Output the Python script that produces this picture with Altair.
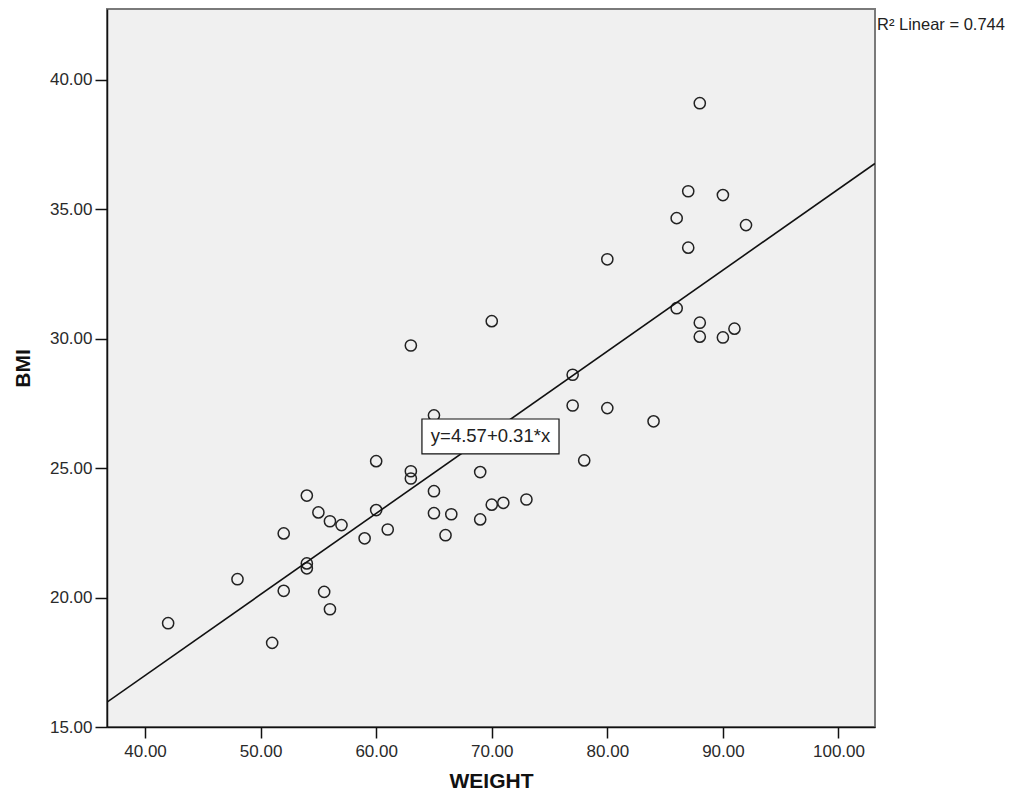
import altair as alt
import pandas as pd

# ---- data ----
weight = [88, 87, 90, 86, 92, 87, 80, 86, 88, 91, 88, 90,
          77, 77, 80, 84, 78,
          70, 63, 65, 60, 63, 63, 69, 54, 65, 55, 60, 56, 57, 65, 66.5,
          70, 71, 73, 69, 61, 59, 66, 52, 54, 54, 48, 52, 55.5, 56, 42, 51]
bmi = [39.10, 35.70, 35.55, 34.66, 34.39, 33.52, 33.07, 31.18, 30.62, 30.39, 30.08, 30.05,
       28.61, 27.42, 27.32, 26.81, 25.30,
       30.68, 29.74, 27.04, 25.27, 24.88, 24.60, 24.85, 23.94, 24.11, 23.29, 23.38, 22.95, 22.80, 23.26, 23.22,
       23.59, 23.66, 23.79, 23.02, 22.63, 22.29, 22.41, 22.48, 21.32, 21.13, 20.71, 20.26, 20.22, 19.55, 19.01, 18.25]

x_ticks = [40, 50, 60, 70, 80, 90, 100]
y_ticks = [15, 20, 25, 30, 35, 40]
x_domain = [36.71, 103.16]
y_domain = [15.0, 42.74]

eq_label = ["y=4.57+0.31*x"]
eq_box_x = [63.96, 75.82]
eq_box_y = [26.90, 25.55]
r2_label = ["R\u00b2 Linear = 0.744"]

FONT = "Liberation Sans"

df = pd.DataFrame({"WEIGHT": weight, "BMI": bmi})
box_df = pd.DataFrame({"x1": [eq_box_x[0]], "x2": [eq_box_x[1]],
                       "y1": [eq_box_y[0]], "y2": [eq_box_y[1]],
                       "tx": [(eq_box_x[0] + eq_box_x[1]) / 2],
                       "ty": [(eq_box_y[0] + eq_box_y[1]) / 2],
                       "label": eq_label})
r2_df = pd.DataFrame({"label": r2_label})

xs = alt.Scale(domain=x_domain, nice=False, zero=False)
ys = alt.Scale(domain=y_domain, nice=False, zero=False)

x_axis = alt.Axis(values=x_ticks, format=".2f", title="WEIGHT", grid=False,
                  tickSize=11, labelPadding=5, titlePadding=11)
y_axis = alt.Axis(values=y_ticks, format=".2f", title="BMI", grid=False,
                  tickSize=12, labelPadding=3, titlePadding=16)

points = alt.Chart(df).mark_point(
    shape="circle", filled=False, size=125, stroke="#222222",
    strokeWidth=1.5, opacity=1
).encode(
    x=alt.X("WEIGHT:Q", scale=xs, axis=x_axis),
    y=alt.Y("BMI:Q", scale=ys, axis=y_axis),
)

fit = alt.Chart(df).transform_regression(
    "WEIGHT", "BMI", method="linear", extent=x_domain
).mark_line(color="#111111", strokeWidth=1.6, clip=True).encode(
    x=alt.X("WEIGHT:Q", scale=xs),
    y=alt.Y("BMI:Q", scale=ys),
)

box = alt.Chart(box_df).mark_rect(fill="white", stroke="#111111", strokeWidth=1.2).encode(
    x=alt.X("x1:Q", scale=xs), x2="x2:Q",
    y=alt.Y("y1:Q", scale=ys), y2="y2:Q",
)

eq_text = alt.Chart(box_df).mark_text(
    font=FONT, fontSize=18.5, color="#222222", align="center", baseline="middle"
).encode(
    x=alt.X("tx:Q", scale=xs), y=alt.Y("ty:Q", scale=ys), text="label:N"
)

r2_text = alt.Chart(r2_df).mark_text(
    font=FONT, fontSize=16.5, color="#222222", align="left", baseline="alphabetic"
).encode(
    x=alt.value(770), y=alt.value(21), text="label:N"
)

chart = alt.layer(points, fit, box, eq_text, r2_text).properties(
    width=768, height=718,
    autosize=alt.AutoSizeParams(type="none"),
    padding={"left": 99, "top": 1, "right": 137, "bottom": 67},
    background="white",
).configure_view(
    fill="#f0f0f0", stroke="#7a7a7a", strokeWidth=2
).configure_axis(
    domainColor="#111111", domainWidth=1.5,
    tickColor="#111111", tickWidth=1.5,
    labelFont=FONT, labelFontSize=17, labelColor="#2a2a2a",
    titleFont=FONT, titleFontSize=21, titleFontWeight="bold", titleColor="#111111",
)

chart.save("out.html", embed_options={"renderer": "svg", "actions": False})
